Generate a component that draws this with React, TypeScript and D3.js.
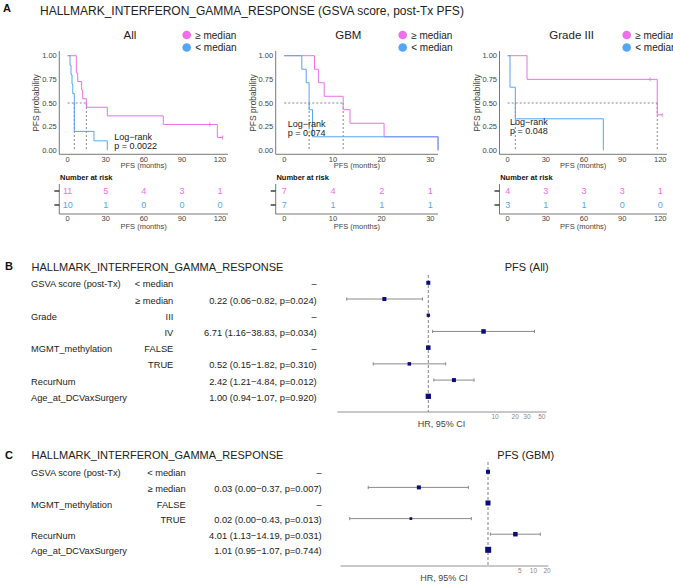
import React from "react";
import * as d3 from "d3";

const PINK = "#EE6FE9";
const BLUE = "#55A6F1";
const FONT = "'Liberation Sans', Arial, Helvetica, sans-serif";

// ---------- Panel A data (Kaplan–Meier) ----------
const allHighTimes = [0, 6.8, 7.9, 11.0, 11.8, 14.7, 31.2, 75.3, 117.9, 122];
const allHighSurv = [1, 0.818, 0.727, 0.636, 0.545, 0.455, 0.364, 0.273, 0.136, 0.136];
const allHighCensor = [112, 122];
const allLowTimes = [0, 1.8, 2.6, 3.4, 4.0, 5.2, 20.7, 31.2];
const allLowSurv = [1, 0.9, 0.8, 0.7, 0.6, 0.2, 0.1, 0];
const allLowCensor: number[] = [];
const allMedians = [5.2, 14.7];
const allRiskTimes = [0, 30, 60, 90, 120];
const allRiskHigh = [11, 5, 4, 3, 1];
const allRiskLow = [10, 1, 0, 0, 0];

const gbmHighTimes = [0, 6.2, 7.0, 8.2, 12.1, 13.5, 20.5, 31.6];
const gbmHighSurv = [1, 0.857, 0.714, 0.571, 0.429, 0.286, 0.143, 0];
const gbmHighCensor: number[] = [];
const gbmLowTimes = [0, 3.6, 4.5, 5.1, 5.8, 31.6];
const gbmLowSurv = [1, 0.857, 0.714, 0.429, 0.143, 0];
const gbmLowCensor: number[] = [];
const gbmMedians = [5.1, 12.1];
const gbmRiskTimes = [0, 10, 20, 30];
const gbmRiskHigh = [7, 4, 2, 1];
const gbmRiskLow = [7, 1, 1, 1];

const g3HighTimes = [0, 15.2, 117.6, 121.5];
const g3HighSurv = [1, 0.75, 0.375, 0.375];
const g3HighCensor = [112, 121.5];
const g3LowTimes = [0, 1.8, 6.0, 75.2];
const g3LowSurv = [1, 0.667, 0.333, 0];
const g3LowCensor: number[] = [];
const g3Medians = [6.0, 117.6];
const g3RiskTimes = [0, 30, 60, 90, 120];
const g3RiskHigh = [4, 3, 3, 3, 1];
const g3RiskLow = [3, 1, 1, 0, 0];

const yTicks = [0, 0.25, 0.5, 0.75, 1];
const legendLabels = ["\u2265 median", "< median"];

// ---------- Panel B data (forest, PFS All) ----------
const bVars = ["GSVA score (post-Tx)", "", "Grade", "", "MGMT_methylation", "", "RecurNum", "Age_at_DCVaxSurgery"];
const bLevels = ["< median", "\u2265 median", "III", "IV", "FALSE", "TRUE", "", ""];
const bHR = [1, 0.22, 1, 6.71, 1, 0.52, 2.42, 1.0];
const bLo = [null, 0.06, null, 1.16, null, 0.15, 1.21, 0.94];
const bHi = [null, 0.82, null, 38.83, null, 1.82, 4.84, 1.07];
const bP = [null, 0.024, null, 0.034, null, 0.31, 0.012, 0.92];
const bWeight = [4, 4, 3.3, 4.5, 4.5, 3.5, 4, 5.3];
const bTicks = [10, 20, 30, 50];

// ---------- Panel C data (forest, PFS GBM) ----------
const cVars = ["GSVA score (post-Tx)", "", "MGMT_methylation", "", "RecurNum", "Age_at_DCVaxSurgery"];
const cLevels = ["< median", "\u2265 median", "FALSE", "TRUE", "", ""];
const cHR = [1, 0.03, 1, 0.02, 4.01, 1.01];
const cLo = [null, 0.0023, null, 0.0009, 1.13, 0.95];
const cHi = [null, 0.37, null, 0.43, 14.19, 1.07];
const cP = [null, 0.007, null, 0.013, 0.031, 0.744];
const cWeight = [4, 4, 5, 2.7, 4.5, 6];
const cTicks = [5, 10, 20];

type Curve = { times: number[]; surv: number[]; censor: number[]; color: string };

type KMCfg = {
  title: string;
  axisX: number;
  x0: number;
  x1: number;
  tmax: number;
  right: number;
  titleX: number;
  legendX: number;
  pvalX: number;
  pvalY: number;
  pval: string;
  ylabX: number;
};

function stepValue(c: Curve, t: number) {
  let v = c.surv[0];
  for (let i = 0; i < c.times.length; i++) if (c.times[i] <= t) v = c.surv[i];
  return v;
}

function KMPanel({ cfg, curves, medians, riskTimes, riskHigh, riskLow }: {
  cfg: KMCfg; curves: Curve[]; medians: number[]; riskTimes: number[]; riskHigh: number[]; riskLow: number[];
}) {
  const x = d3.scaleLinear().domain([0, cfg.tmax]).range([cfg.x0, cfg.x1]);
  const y = d3.scaleLinear().domain([0, 1]).range([150.3, 55.7]);
  const line = d3
    .line<[number, number]>()
    .x((d) => x(d[0]))
    .y((d) => y(d[1]))
    .curve(d3.curveStepAfter);
  const yTop = 51;
  const yBot = 154.3;
  const fmt = d3.format(".2f");
  const maxMed = d3.max(medians) as number;
  const midX = (cfg.axisX + cfg.right) / 2;
  const riskRowY = [191, 205];
  const riskAxisY = 214;
  return (
    <g>
      <text x={cfg.titleX} y={38.5} fontSize={11.5} textAnchor="middle" fill="#222">{cfg.title}</text>
      {legendLabels.map((l, i) => (
        <g key={l}>
          <circle cx={cfg.legendX} cy={35 + i * 12.5} r={4.3} fill={i === 0 ? PINK : BLUE} />
          <text x={cfg.legendX + 8.5} y={35 + i * 12.5 + 3.6} fontSize={10} fill="#222">{l}</text>
        </g>
      ))}
      {/* axes */}
      <line x1={cfg.axisX} x2={cfg.axisX} y1={yTop} y2={yBot} stroke="#555" strokeWidth={0.8} />
      <line x1={cfg.axisX} x2={cfg.right} y1={yBot} y2={yBot} stroke="#555" strokeWidth={0.8} />
      {yTicks.map((t) => (
        <text key={t} x={cfg.axisX - 2.5} y={y(t) + 2.6} fontSize={7.5} textAnchor="end" fill="#444">{fmt(t)}</text>
      ))}
      {riskTimes.map((t) => (
        <text key={t} x={x(t)} y={161.8} fontSize={7.5} textAnchor="middle" fill="#444">{t}</text>
      ))}
      <text x={midX} y={168} fontSize={7.5} textAnchor="middle" fill="#444">PFS (months)</text>
      <text transform={`translate(${cfg.ylabX + 3},${103}) rotate(-90)`} fontSize={8.5} textAnchor="middle" fill="#444">PFS probability</text>
      {/* median lines */}
      <line x1={x(0)} x2={x(maxMed)} y1={y(0.5)} y2={y(0.5)} stroke="#555" strokeWidth={0.7} strokeDasharray="2,2" />
      {medians.map((m) => (
        <line key={m} x1={x(m)} x2={x(m)} y1={y(0.5)} y2={y(0)} stroke="#555" strokeWidth={0.7} strokeDasharray="2,2" />
      ))}
      {/* curves */}
      {curves.map((c, i) => (
        <g key={i}>
          <path d={line(c.times.map((t, j) => [t, c.surv[j]] as [number, number])) || ""} fill="none" stroke={c.color} strokeWidth={1} />
          {c.censor.map((t) => (
            <line key={t} x1={x(t)} x2={x(t)} y1={y(stepValue(c, t)) - 2} y2={y(stepValue(c, t)) + 2} stroke={c.color} strokeWidth={0.8} />
          ))}
        </g>
      ))}
      <text x={cfg.pvalX} y={cfg.pvalY + 3.2} fontSize={9} fill="#222">Log{"\u2212"}rank</text>
      <text x={cfg.pvalX} y={cfg.pvalY + 12.6} fontSize={9} fill="#222">{cfg.pval}</text>
      {/* risk table */}
      <text x={cfg.axisX + 0.7} y={179.8} fontSize={7.5} fontWeight="bold" fill="#111">Number at risk</text>
      <line x1={cfg.axisX} x2={cfg.axisX} y1={184} y2={riskAxisY} stroke="#555" strokeWidth={0.8} />
      <line x1={cfg.axisX} x2={cfg.right} y1={riskAxisY} y2={riskAxisY} stroke="#555" strokeWidth={0.8} />
      {riskRowY.map((ry) => (
        <line key={ry} x1={cfg.axisX - 5} x2={cfg.axisX} y1={ry} y2={ry} stroke="#222" strokeWidth={1.3} />
      ))}
      {riskTimes.map((t, i) => (
        <g key={t}>
          <text x={x(t)} y={riskRowY[0] + 3.3} fontSize={9} textAnchor="middle" fill={PINK}>{riskHigh[i]}</text>
          <text x={x(t)} y={riskRowY[1] + 3.3} fontSize={9} textAnchor="middle" fill={BLUE}>{riskLow[i]}</text>
          <text x={x(t)} y={221} fontSize={7.5} textAnchor="middle" fill="#444">{t}</text>
        </g>
      ))}
      <text x={midX} y={228.5} fontSize={7.5} textAnchor="middle" fill="#444">PFS (months)</text>
    </g>
  );
}

type ForestCfg = {
  letter: string;
  titleY: number;
  plotTitle: string;
  plotTitleX: number;
  rowTop: number;
  rowBottom: number;
  levelX: number;
  estX: number;
  oneX: number;
  decade: number;
  axisY: number;
  axisL: number;
  axisR: number;
  dashTop: number;
};

function Forest({ cfg, vars, levels, hr, lo, hi, p, weight, ticks }: {
  cfg: ForestCfg; vars: string[]; levels: string[]; hr: number[]; lo: (number | null)[]; hi: (number | null)[]; p: (number | null)[]; weight: number[]; ticks: number[];
}) {
  const x = d3.scaleLog().domain([1, 10]).range([cfg.oneX, cfg.oneX + cfg.decade]);
  const rows = d3.range(vars.length);
  const ry = d3.scalePoint<number>().domain(rows).range([cfg.rowTop, cfg.rowBottom]);
  const f2 = d3.format(".2f");
  const f3 = d3.format(".3f");
  return (
    <g>
      <text x={5} y={cfg.titleY + 3.8} fontSize={11} fontWeight="bold" fill="#111">{cfg.letter}</text>
      <text x={31.5} y={cfg.titleY + 4} fontSize={11} fill="#222">HALLMARK_INTERFERON_GAMMA_RESPONSE</text>
      <text x={cfg.plotTitleX} y={cfg.titleY + 4} fontSize={11} fill="#222">{cfg.plotTitle}</text>
      {rows.map((i) => {
        const yy = ry(i) as number;
        const est = lo[i] == null ? "\u2013" : `${f2(hr[i])} (${f2(lo[i] as number)}\u2212${f2(hi[i] as number)}, p=${f3(p[i] as number)})`;
        return (
          <g key={i}>
            <text x={31} y={yy + 3.3} fontSize={9.3} fill="#222">{vars[i]}</text>
            <text x={cfg.levelX} y={yy + 3.3} fontSize={9.3} textAnchor="end" fill="#222">{levels[i]}</text>
            <text x={cfg.estX} y={yy + 3.3} fontSize={9.3} textAnchor="end" fill="#222">{est}</text>
          </g>
        );
      })}
      <line x1={x(1)} x2={x(1)} y1={cfg.dashTop} y2={cfg.axisY} stroke="#666" strokeWidth={0.8} strokeDasharray="3,2" />
      {rows.map((i) => {
        const yy = (ry(i) as number) - 1.2;
        const s = weight[i];
        return (
          <g key={i}>
            {lo[i] != null && (
              <g stroke="#8a8a8a" strokeWidth={1}>
                <line x1={x(lo[i] as number)} x2={x(hi[i] as number)} y1={yy} y2={yy} />
                <line x1={x(lo[i] as number)} x2={x(lo[i] as number)} y1={yy - 1.6} y2={yy + 1.6} />
                <line x1={x(hi[i] as number)} x2={x(hi[i] as number)} y1={yy - 1.6} y2={yy + 1.6} />
              </g>
            )}
            <rect x={x(hr[i]) - s / 2} y={yy - s / 2} width={s} height={s} fill="#0b0b7a" />
          </g>
        );
      })}
      <line x1={cfg.axisL} x2={cfg.axisR} y1={cfg.axisY} y2={cfg.axisY} stroke="#777" strokeWidth={0.8} />
      {ticks.map((t) => (
        <text key={t} x={x(t)} y={cfg.axisY + 7.3} fontSize={6.5} textAnchor="middle" fill="#888">{t}</text>
      ))}
      <text x={(cfg.axisL + cfg.axisR) / 2 - 0.5} y={cfg.axisY + 15.3} fontSize={9} textAnchor="middle" fill="#444">HR, 95% CI</text>
    </g>
  );
}

const kmAll: KMCfg = { title: "All", axisX: 59.3, x0: 67.7, x1: 220, tmax: 120, right: 228, titleX: 130, legendX: 186.7, pvalX: 114.3, pvalY: 136.7, pval: "p = 0.0022", ylabX: 36 };
const kmGbm: KMCfg = { title: "GBM", axisX: 275.7, x0: 284.3, x1: 430.3, tmax: 30, right: 438, titleX: 348.3, legendX: 402.7, pvalX: 287.7, pvalY: 123.3, pval: "p = 0.074", ylabX: 253.3 };
const kmG3: KMCfg = { title: "Grade III", axisX: 499.5, x0: 507.7, x1: 660.3, tmax: 120, right: 667, titleX: 571.7, legendX: 626.7, pvalX: 510, pvalY: 121.7, pval: "p = 0.048", ylabX: 476.7 };

const forestB: ForestCfg = { letter: "B", titleY: 266.5, plotTitle: "PFS (All)", plotTitleX: 504.7, rowTop: 284, rowBottom: 397.5, levelX: 173.3, estX: 316.7, oneX: 428.3, decade: 66.8, axisY: 412, axisL: 337.3, axisR: 546.7, dashTop: 275 };
const forestC: ForestCfg = { letter: "C", titleY: 455, plotTitle: "PFS (GBM)", plotTitleX: 497.3, rowTop: 473, rowBottom: 551, levelX: 185.7, estX: 321.7, oneX: 488, decade: 45.4, axisY: 566, axisL: 340.7, axisR: 548.3, dashTop: 462 };

export default function App() {
  return (
    <svg width={673} height={588} style={{ position: "absolute", left: 0, top: 0, background: "#fff" }} fontFamily={FONT}>
      <text x={3} y={12} fontSize={11} fontWeight="bold" fill="#111">A</text>
      <text x={40} y={15.2} fontSize={12} fill="#222">HALLMARK_INTERFERON_GAMMA_RESPONSE (GSVA score, post-Tx PFS)</text>
      <KMPanel
        cfg={kmAll}
        curves={[
          { times: allHighTimes, surv: allHighSurv, censor: allHighCensor, color: PINK },
          { times: allLowTimes, surv: allLowSurv, censor: allLowCensor, color: BLUE },
        ]}
        medians={allMedians}
        riskTimes={allRiskTimes}
        riskHigh={allRiskHigh}
        riskLow={allRiskLow}
      />
      <KMPanel
        cfg={kmGbm}
        curves={[
          { times: gbmHighTimes, surv: gbmHighSurv, censor: gbmHighCensor, color: PINK },
          { times: gbmLowTimes, surv: gbmLowSurv, censor: gbmLowCensor, color: BLUE },
        ]}
        medians={gbmMedians}
        riskTimes={gbmRiskTimes}
        riskHigh={gbmRiskHigh}
        riskLow={gbmRiskLow}
      />
      <KMPanel
        cfg={kmG3}
        curves={[
          { times: g3HighTimes, surv: g3HighSurv, censor: g3HighCensor, color: PINK },
          { times: g3LowTimes, surv: g3LowSurv, censor: g3LowCensor, color: BLUE },
        ]}
        medians={g3Medians}
        riskTimes={g3RiskTimes}
        riskHigh={g3RiskHigh}
        riskLow={g3RiskLow}
      />
      <Forest cfg={forestB} vars={bVars} levels={bLevels} hr={bHR} lo={bLo} hi={bHi} p={bP} weight={bWeight} ticks={bTicks} />
      <Forest cfg={forestC} vars={cVars} levels={cLevels} hr={cHR} lo={cLo} hi={cHi} p={cP} weight={cWeight} ticks={cTicks} />
    </svg>
  );
}
